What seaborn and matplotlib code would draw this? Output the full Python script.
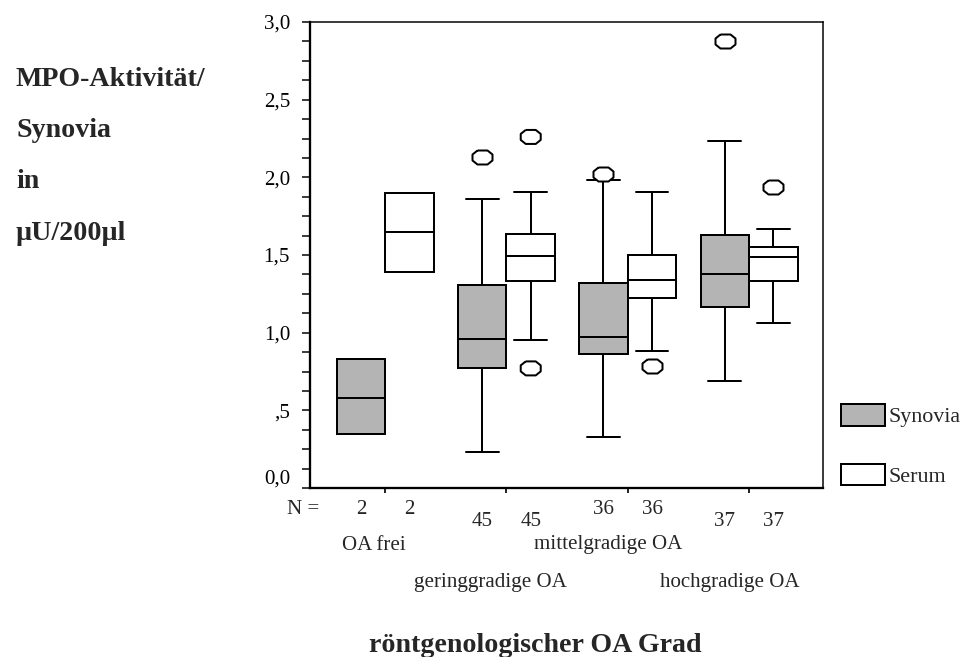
import numpy as np
import pandas as pd
import matplotlib
matplotlib.use("Agg")
import matplotlib.pyplot as plt
from matplotlib.patches import Patch
from matplotlib.transforms import ScaledTranslation
import seaborn as sns

# ---------------- data ----------------
grades = ["OA frei", "geringgradige OA", "mittelgradige OA", "hochgradige OA"]
types = ["Synovia", "Serum"]

# five-number summaries per group: whisker low, Q1, median, Q3, whisker high
syn_lo  = [0.35, 0.23, 0.33, 0.69]
syn_q1  = [0.35, 0.77, 0.86, 1.165]
syn_med = [0.58, 0.96, 0.975, 1.375]
syn_q3  = [0.83, 1.31, 1.32, 1.63]
syn_hi  = [0.83, 1.86, 1.98, 2.235]
syn_out = [[], [2.13], [2.02], [2.88]]

ser_lo  = [1.39, 0.955, 0.88, 1.06]
ser_q1  = [1.39, 1.33, 1.22, 1.33]
ser_med = [1.65, 1.495, 1.34, 1.485]
ser_q3  = [1.90, 1.635, 1.50, 1.55]
ser_hi  = [1.90, 1.905, 1.905, 1.67]
ser_out = [[], [2.26, 0.77], [0.785], [1.94]]

n_counts = [2, 45, 36, 37]

ytick_vals = [0.0, 0.5, 1.0, 1.5, 2.0, 2.5, 3.0]
ytick_labels = ["0,0", ",5", "1,0", "1,5", "2,0", "2,5", "3,0"]

ylabel_lines = ["MPO-Aktivität/", "Synovia", "in", "µU/200µl"]
xlabel = "röntgenologischer OA Grad"

# ---------------- build long-form tables ----------------
rows = []
for t, lo, q1, md, q3, hi in [("Synovia", syn_lo, syn_q1, syn_med, syn_q3, syn_hi),
                              ("Serum", ser_lo, ser_q1, ser_med, ser_q3, ser_hi)]:
    for i, g in enumerate(grades):
        for v in (lo[i], q1[i], md[i], q3[i], hi[i]):
            rows.append({"grade": g, "type": t, "value": v})
box_df = pd.DataFrame(rows)

orows = []
for t, outs in [("Synovia", syn_out), ("Serum", ser_out)]:
    for i, g in enumerate(grades):
        for v in outs[i]:
            orows.append({"grade": g, "type": t, "value": v})
out_df = pd.DataFrame(orows)

# ---------------- style ----------------
sns.set_style("ticks")
plt.rcParams["font.family"] = ["Liberation Serif", "DejaVu Serif"]

DPI = 72
W, H = 964, 657
fig = plt.figure(figsize=(W / DPI, H / DPI), dpi=DPI)
ax = fig.add_axes([310 / W, 1 - 488 / H, 513 / W, 466 / H])

FS = 21
BFS = 28
GRAY = "#b4b4b4"

sns.boxplot(data=box_df, x="grade", y="value", hue="type",
            order=grades, hue_order=types,
            palette={"Synovia": GRAY, "Serum": "white"},
            whis=(0, 100), width=0.8, linewidth=2, linecolor="black",
            showfliers=False, legend=False, ax=ax, capwidths=0.27)

oct_marker = np.array([(-0.5, 0.7), (0.5, 0.7), (1, 0.3), (1, -0.3),
                       (0.5, -0.7), (-0.5, -0.7), (-1, -0.3), (-1, 0.3), (-0.5, 0.7)])
sns.stripplot(data=out_df, x="grade", y="value", hue="type",
              order=grades, hue_order=types, dodge=True, jitter=False,
              palette={"Synovia": "white", "Serum": "white"},
              edgecolor="black", linewidth=2, size=20, marker=oct_marker,
              legend=False, ax=ax, zorder=5)

ax.set_xlim(-0.62, 3.61)
ax.set_ylim(0, 3.0)
ax.set_xlabel("")
ax.set_ylabel("")

ax.set_yticks(ytick_vals)
ax.set_yticklabels(ytick_labels, fontsize=FS)
ax.set_yticks(np.arange(0.125, 3.0, 0.125), minor=True)
ax.tick_params(axis="y", which="both", direction="out", length=8, width=1.5, pad=12, colors="black")
ax.set_xticks(range(len(grades)))
ax.set_xticklabels([""] * len(grades))
ax.tick_params(axis="x", which="major", direction="out", length=5, width=2)
ax.tick_params(axis="x", which="minor", length=0)

# "0,0" label sits slightly above the zero line in the reference
lab0 = ax.get_yticklabels()[0]
lab0.set_transform(lab0.get_transform() + ScaledTranslation(0, 11 / DPI, fig.dpi_scale_trans))

for s in ["left", "bottom"]:
    ax.spines[s].set_linewidth(2.3)
for s in ["top", "right"]:
    ax.spines[s].set_linewidth(1.5)
for s in ax.spines.values():
    s.set_color("black")

# N counts and group labels under the axis
ax.annotate("N =", xy=(0, 0), xycoords=("axes fraction", "axes fraction"),
            xytext=(-7, -21), textcoords="offset points", ha="center", va="center", fontsize=FS)
n_rows = [-21, -34, -21, -34]
cat_rows = [-57, -94, -57, -94]
cat_dx = [-11, -16, -20, -19]
for i, g in enumerate(grades):
    for j, d in enumerate([-0.2, 0.2]):
        ax.annotate(str(n_counts[i]), xy=(i + d, 0), xycoords=("data", "axes fraction"),
                    xytext=(0, n_rows[i]), textcoords="offset points",
                    ha="center", va="center", fontsize=FS)
    ax.annotate(g, xy=(i, 0), xycoords=("data", "axes fraction"),
                xytext=(cat_dx[i], cat_rows[i]), textcoords="offset points",
                ha="center", va="center", fontsize=FS)

fig.text(702 / W, 1 - 652 / H, xlabel, ha="right", va="baseline",
         fontsize=BFS, fontweight="bold")
for k, line in enumerate(ylabel_lines):
    fig.text(16 / W, 1 - (85.5 + 51.5 * k) / H, line, ha="left", va="baseline",
             fontsize=BFS, fontweight="bold")

handles = [Patch(facecolor=GRAY, edgecolor="black", linewidth=2),
           Patch(facecolor="white", edgecolor="black", linewidth=2)]
LFS = 22
fig.legend(handles, types, loc="upper left", bbox_to_anchor=(841 / W, 1 - 404 / H),
           frameon=False, fontsize=LFS, handlelength=44 / LFS, handleheight=25 / LFS,
           handletextpad=0.15, labelspacing=1.65, borderpad=0, borderaxespad=0)

fig.savefig("out.png", dpi=DPI)
